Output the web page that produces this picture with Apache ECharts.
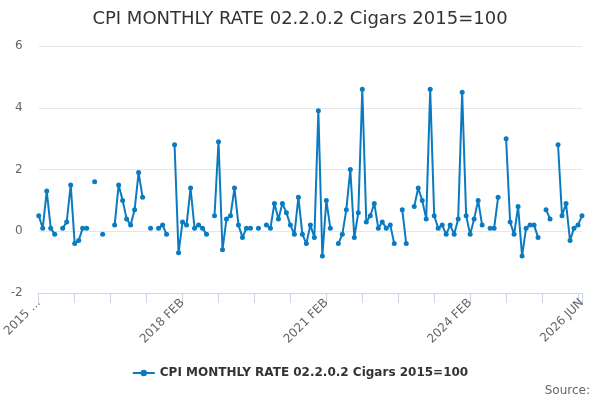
<!DOCTYPE html>
<html>
<head>
<meta charset="utf-8">
<script src="https://cdn.jsdelivr.net/npm/echarts@6/dist/echarts.min.js"></script>
<style>
  html, body { margin: 0; padding: 0; background: #fff; }
  #chart { width: 600px; height: 400px; }
</style>
</head>
<body>
<div id="chart"></div>
<script>
// 标题和系列名
var title = 'CPI MONTHLY RATE 02.2.0.2 Cigars 2015=100';
var seriesName = 'CPI MONTHLY RATE 02.2.0.2 Cigars 2015=100';

// 月份：2015 FEB 到 2026 JUN
var monthNames = ['JAN', 'FEB', 'MAR', 'APR', 'MAY', 'JUN', 'JUL', 'AUG', 'SEP', 'OCT', 'NOV', 'DEC'];
var categories = [];
for (var y = 2015; y <= 2026; y++) {
  for (var m = 0; m < 12; m++) {
    if (y === 2015 && m < 1) continue;
    if (y === 2026 && m > 5) break;
    categories.push(y + ' ' + monthNames[m]);
  }
}

// 月度变化率（null 为缺失）
var values = [
  0.5, 0.1, 1.3, 0.1, -0.1, null, 0.1, 0.3, 1.5, -0.4, -0.3, 0.1,
  0.1, null, 1.6, null, -0.1, null, null, 0.2, 1.5, 1.0, 0.4, 0.2,
  0.7, 1.9, 1.1, null, 0.1, null, 0.1, 0.2, -0.1, null, 2.8, -0.7,
  0.3, 0.2, 1.4, 0.1, 0.2, 0.1, -0.1, null, 0.5, 2.9, -0.6, 0.4,
  0.5, 1.4, 0.2, -0.2, 0.1, 0.1, null, 0.1, null, 0.2, 0.1, 0.9,
  0.4, 0.9, 0.6, 0.2, -0.1, 1.1, -0.1, -0.4, 0.2, -0.2, 3.9, -0.8,
  1.0, 0.1, null, -0.4, -0.1, 0.7, 2.0, -0.2, 0.6, 4.6, 0.3, 0.5,
  0.9, 0.1, 0.3, 0.1, 0.2, -0.4, null, 0.7, -0.4, null, 0.8, 1.4,
  1.0, 0.4, 4.6, 0.5, 0.1, 0.2, -0.1, 0.2, -0.1, 0.4, 4.5, 0.5,
  -0.1, 0.4, 1.0, 0.2, null, 0.1, 0.1, 1.1, null, 3.0, 0.3, -0.1,
  0.8, -0.8, 0.1, 0.2, 0.2, -0.2, null, 0.7, 0.4, null, 2.8, 0.5,
  0.9, -0.3, 0.1, 0.2, 0.5
];

// y 轴刻度
var yMin = -2, yMax = 6, yStep = 2;

var lastIdx = categories.length - 1;
var lineColor = '#0b7bc1';

var chart = echarts.init(document.getElementById('chart'));
chart.setOption({
  animation: false,
  title: {
    text: title,
    left: 'center',
    top: 5,
    textStyle: { fontFamily: 'DejaVu Sans', fontSize: 18, fontWeight: 'normal', color: '#333' }
  },
  legend: {
    bottom: 16,
    left: 'center',
    itemWidth: 22,
    itemHeight: 8,
    textStyle: { fontFamily: 'DejaVu Sans', fontSize: 12, fontWeight: 'bold', color: '#333' },
    data: [seriesName]
  },
  graphic: [{
    type: 'text',
    right: 10,
    bottom: 3,
    style: { text: 'Source:', fontFamily: 'DejaVu Sans', fontSize: 12, fill: '#666' }
  }],
  grid: { left: 37, right: 18, top: 46, bottom: 107 },
  xAxis: {
    type: 'category',
    boundaryGap: false,
    data: categories,
    axisLine: { onZero: false, lineStyle: { color: '#ccd6eb' } },
    axisTick: {
      length: 10,
      lineStyle: { color: '#ccd6eb' },
      interval: function (i) { return i % 9 === 0 || i === lastIdx; }
    },
    axisLabel: {
      rotate: 45,
      margin: 8,
      fontFamily: 'DejaVu Sans',
      fontSize: 12,
      color: '#666',
      interval: function (i) { return i % 36 === 0 || i === lastIdx; },
      formatter: function (v, i) { return i === 0 ? v.slice(0, 4) + ' ...' : v; }
    },
    splitLine: { show: false }
  },
  yAxis: {
    type: 'value',
    min: yMin,
    max: yMax,
    interval: yStep,
    axisLine: { show: false },
    axisTick: { show: false },
    axisLabel: { fontFamily: 'DejaVu Sans', fontSize: 12, color: '#666', margin: 16 },
    splitLine: { lineStyle: { color: '#e6e6e6' } }
  },
  series: [{
    name: seriesName,
    type: 'line',
    data: values,
    symbol: 'circle',
    symbolSize: 5,
    showAllSymbol: true,
    connectNulls: false,
    itemStyle: { color: lineColor },
    lineStyle: { color: lineColor, width: 2 }
  }]
});
</script>
</body>
</html>
